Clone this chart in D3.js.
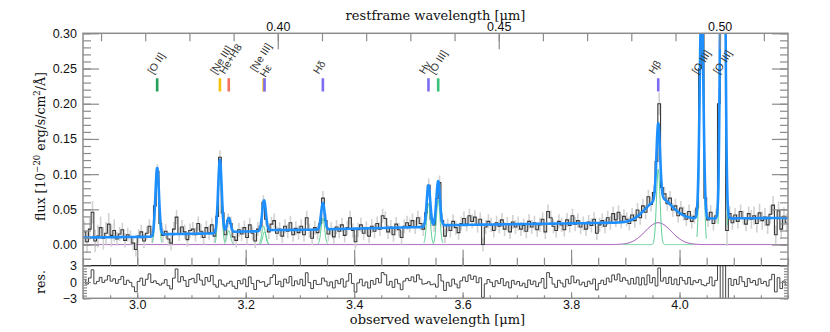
<!DOCTYPE html>
<html>
<head>
<meta charset="utf-8">
<script src="https://cdn.jsdelivr.net/npm/d3@7"></script>
<style>
  body { margin: 0; background: #fff; }
  svg { display: block; }
</style>
</head>
<body>
<svg id="chart" width="830" height="332"></svg>
<script>
// 1+z, observed = rest * onePlusZ
const onePlusZ = 8.148;

// spectrum bins (observed micron): first bin centre and bin width
const binStart = 2.9025, binStep = 0.005;

// observed flux per bin [1e-20 erg/s/cm2/A]
const flux = [
  0.018, 0.004, 0.022, 0.046, 0.005, 0.012, 0.024, 0.009, 0.016, 0.029, 0.013, 0.020, 0.008, 0.015, 0.021, 0.006, 0.014, 0.010, 0.002, -0.007,
  0.012, 0.018, 0.005, 0.016, 0.026, 0.012, 0.055, 0.104, 0.030, 0.013, 0.019, 0.008, 0.002, 0.022, 0.039, 0.015, 0.025, 0.018, 0.007, 0.020,
  0.022, 0.014, 0.030, 0.019, 0.010, 0.024, 0.017, 0.028, 0.012, 0.040, 0.124, 0.045, 0.014, 0.034, 0.030, 0.011, 0.006, 0.021, 0.015, 0.024,
  0.010, 0.028, 0.016, 0.005, 0.022, 0.026, 0.060, 0.036, 0.018, 0.029, 0.034, 0.016, 0.022, 0.012, 0.026, 0.019, 0.031, 0.014, 0.023, 0.017,
  0.026, 0.014, 0.038, 0.020, 0.009, 0.024, 0.017, 0.030, 0.066, 0.034, 0.015, 0.022, 0.011, 0.025, 0.019, 0.028, 0.013, 0.024, 0.038, 0.020,
  0.004, 0.021, 0.028, 0.016, 0.023, 0.012, 0.026, 0.019, 0.030, 0.022, 0.041, 0.037, 0.018, 0.025, 0.014, 0.029, 0.021, 0.010, 0.026, 0.031,
  0.027, 0.034, 0.025, 0.038, 0.030, 0.022, 0.045, 0.084, 0.036, 0.028, 0.065, 0.088, 0.034, 0.012, 0.027, 0.020, 0.033, 0.024, 0.017, 0.030,
  0.037, 0.029, 0.041, 0.033, 0.039, 0.027, 0.036, 0.000, 0.025, 0.033, 0.028, 0.020, 0.031, 0.026, 0.035, 0.022, 0.029, 0.018, 0.032, 0.025,
  0.030, 0.022, 0.027, 0.019, 0.033, 0.025, 0.031, 0.021, 0.028, 0.036, 0.018, 0.047, 0.038, 0.026, 0.020, 0.033, 0.028, 0.021, 0.035, 0.027,
  0.041, 0.029, 0.034, 0.025, 0.030, 0.022, 0.032, 0.027, 0.036, 0.016, 0.028, 0.034, 0.026, 0.038, 0.031, 0.044, 0.035, 0.046, 0.033, 0.040,
  0.036, 0.030, 0.042, 0.034, 0.049, 0.038, 0.055, 0.046, 0.068, 0.057, 0.074, 0.118, 0.200, 0.081, 0.072, 0.058, 0.066, 0.049, 0.055, 0.041,
  0.052, 0.044, 0.036, 0.047, 0.033, 0.040, 0.052, 0.250, 0.300, 0.066, 0.035, 0.046, 0.030, 0.041, 0.200, 0.620, 0.860, 0.020, 0.044, 0.031,
  0.042, 0.033, 0.047, 0.038, 0.029, 0.044, 0.036, 0.041, 0.030, 0.045, 0.034, 0.039, 0.028, 0.043, 0.056, 0.014, 0.048, 0.022, 0.040, 0.031
];

// 1-sigma error, piecewise constant [from, to, err]
const errSegments = [
  [2.900, 2.960, 0.016], [2.960, 3.955, 0.010], [3.955, 3.966, 0.016],
  [3.966, 4.035, 0.010], [4.035, 4.046, 0.016], [4.046, 4.070, 0.010],
  [4.070, 4.090, 0.022], [4.090, 4.130, 0.010], [4.130, 4.200, 0.013]
];

// fitted continuum (knots)
const contWave = [2.900, 3.034, 3.040, 3.150, 3.170, 3.230, 3.236, 3.340, 3.345, 3.530, 3.560, 3.900, 3.955, 3.966, 4.200];
const contFlux = [0.0100, 0.0112, 0.0145, 0.0160, 0.0180, 0.0190, 0.0205, 0.0212, 0.0216, 0.0250, 0.0275, 0.0312, 0.0320, 0.0365, 0.0378];

// emission lines: name, rest wavelength (micron), fitted narrow amplitude
const lineNames = ["[O II]", "[Ne III]", "He+H8", "[Ne III]", "Hε", "Hδ", "Hγ", "[O III]", "Hβ", "[O III]", "[O III]"];
const lineRest  = [0.3727, 0.3869, 0.3889, 0.3968, 0.3970, 0.4102, 0.4341, 0.4363, 0.4861, 0.4959, 0.5007];
const lineAmp   = [0.096, 0.104, 0.020, 0.026, 0.018, 0.0375, 0.0585, 0.063, 0.107, 0.32, 0.95];
const narrowSigma = 0.0033;

// broad Hbeta component
const broadRest = 0.4861, broadAmp = 0.031, broadSigma = 0.024;

// axis tick labels
const obsTicks = [3.0, 3.2, 3.4, 3.6, 3.8, 4.0];
const restTicks = [0.40, 0.45, 0.50];
const fluxTicks = [0.00, 0.05, 0.10, 0.15, 0.20, 0.25, 0.30];
const resTicks = [-3, 0, 3];

const lineColor = {
  "[O II]": "#23a05a", "[Ne III]": "#f4c20d", "He+H8": "#f4725e",
  "Hε": "#7b6cf0", "Hδ": "#7b6cf0", "Hγ": "#7b6cf0", "Hβ": "#7b6cf0", "[O III]": "#3cc07a"
};

const svg = d3.select("#chart");
const L = 83, R = 788, T = 33.3, MB = 265.7, RB = 298.3;

const x = d3.scaleLinear().domain([2.9, 4.2]).range([L, R]);
const xTop = d3.scaleLinear().domain([2.9 / onePlusZ, 4.2 / onePlusZ]).range([L, R]);
const y = d3.scaleLinear().domain([-0.03, 0.30]).range([MB, T]);
const yr = d3.scaleLinear().domain([-3, 3]).range([RB, MB]);

const gauss = (w, c, a, s) => a * Math.exp(-0.5 * ((w - c) / s) ** 2);
const cont = d3.scaleLinear().domain(contWave).range(contFlux).clamp(true);
const broad = w => gauss(w, broadRest * onePlusZ, broadAmp, broadSigma);
const narrow = w => d3.sum(lineRest, (r, k) => gauss(w, r * onePlusZ, lineAmp[k], narrowSigma));
const model = w => cont(w) + broad(w) + narrow(w);
const errAt = w => (errSegments.find(s => w >= s[0] && w < s[1]) || errSegments[errSegments.length - 1])[2];

const bins = flux.map((f, i) => {
  const w = binStart + i * binStep;
  const e = errAt(w);
  return {w, f, e, r: (f - model(w)) / e};
});

const grid = d3.range(2.9, 4.2001, 0.0005);

const defs = svg.append("defs");
defs.append("clipPath").attr("id", "clipMain")
  .append("rect").attr("x", L).attr("y", T).attr("width", R - L).attr("height", MB - T);
defs.append("clipPath").attr("id", "clipRes")
  .append("rect").attr("x", L).attr("y", MB).attr("width", R - L).attr("height", RB - MB);

const main = svg.append("g").attr("clip-path", "url(#clipMain)");

// broad component (gives the zero line too)
main.append("path")
  .datum(grid)
  .attr("fill", "none")
  .attr("stroke", "#8e3aa6")
  .attr("stroke-width", 1)
  .attr("d", d3.line().x(w => x(w)).y(w => y(broad(w))));

// line markers (the ones under a line running off the top are hidden by the fit)
const markerTop = 0.236, markerBottom = 0.2175;
main.append("g")
  .selectAll("line")
  .data(lineRest.filter(r => model(r * onePlusZ) < markerBottom))
  .join("line")
  .attr("x1", r => x(r * onePlusZ)).attr("x2", r => x(r * onePlusZ))
  .attr("y1", y(markerTop)).attr("y2", y(markerBottom))
  .attr("stroke", r => lineColor[lineNames[lineRest.indexOf(r)]])
  .attr("stroke-width", 2.6);

// error bars
main.append("g")
  .attr("stroke", "#d2d2d2")
  .attr("stroke-width", 1.6)
  .selectAll("line")
  .data(bins)
  .join("line")
  .attr("x1", d => x(d.w)).attr("x2", d => x(d.w))
  .attr("y1", d => y(d.f - d.e)).attr("y2", d => y(d.f + d.e));

// observed spectrum
main.append("path")
  .datum(bins)
  .attr("fill", "none")
  .attr("stroke", "#383838")
  .attr("stroke-width", 1.1)
  .attr("d", d3.line().curve(d3.curveStep).x(d => x(d.w)).y(d => y(d.f)));

// narrow components
lineRest.forEach((r, k) => {
  const c = r * onePlusZ;
  const half = r === broadRest ? 0.065 : 0.009;
  main.append("path")
    .datum(grid.filter(w => Math.abs(w - c) <= half))
    .attr("fill", "none")
    .attr("stroke", "#4cc98a")
    .attr("stroke-width", 0.9)
    .attr("d", d3.line().x(w => x(w)).y(w => y(gauss(w, c, lineAmp[k], narrowSigma))));
});

// total model
main.append("path")
  .datum(grid)
  .attr("fill", "none")
  .attr("stroke", "#1e8fff")
  .attr("stroke-width", 2.6)
  .attr("stroke-linejoin", "round")
  .attr("d", d3.line().x(w => x(w)).y(w => y(model(w))));

// residuals
svg.append("g").attr("clip-path", "url(#clipRes)")
  .append("path")
  .datum(bins)
  .attr("fill", "none")
  .attr("stroke", "#444")
  .attr("stroke-width", 1)
  .attr("d", d3.line().curve(d3.curveStep).x(d => x(d.w)).y(d => yr(d.r)));

// frames
svg.append("rect").attr("x", L).attr("y", T).attr("width", R - L).attr("height", RB - T)
  .attr("fill", "none").attr("stroke", "#8c8c8c").attr("stroke-width", 1.5);
svg.append("line").attr("x1", L).attr("x2", R).attr("y1", MB).attr("y2", MB)
  .attr("stroke", "#222").attr("stroke-width", 1.3);

// axes
const tickFont = "'Liberation Sans', Arial, sans-serif";
function axis(gen, transform, values, len, fmt, pad) {
  const g = svg.append("g").attr("transform", transform)
    .call(gen.tickValues(values).tickSize(-len).tickPadding(pad || 3)
      .tickFormat(fmt || (() => "")));
  g.attr("font-family", tickFont).attr("font-size", 12.5);
  g.select(".domain").remove();
  g.selectAll(".tick line").attr("stroke", "#8c8c8c").attr("stroke-width", 1.2);
  g.selectAll(".tick text").attr("fill", "#111");
  return g;
}

const minorObs = d3.range(2.9, 4.2001, 0.05);
const minorRest = d3.range(0.36, 0.5151, 0.01);
const minorFlux = d3.range(-0.03, 0.3001, 0.01);
const minorRes = d3.range(-3, 3.001, 0.5);

axis(d3.axisTop(xTop), `translate(0,${T})`, minorRest, 8);
axis(d3.axisTop(xTop), `translate(0,${T})`, restTicks, 16, d3.format(".2f"), 2);
axis(d3.axisBottom(x), `translate(0,${MB})`, minorObs, 8);
axis(d3.axisBottom(x), `translate(0,${MB})`, obsTicks, 16);
axis(d3.axisLeft(y), `translate(${L},0)`, minorFlux, 8);
axis(d3.axisLeft(y), `translate(${L},0)`, fluxTicks, 16, d3.format(".2f"), 6);
axis(d3.axisRight(y), `translate(${R},0)`, minorFlux, 8);
axis(d3.axisRight(y), `translate(${R},0)`, fluxTicks, 16);
axis(d3.axisLeft(yr), `translate(${L},0)`, minorRes, 4);
axis(d3.axisLeft(yr), `translate(${L},0)`, resTicks, 8, d3.format("d"), 6);
axis(d3.axisRight(yr), `translate(${R},0)`, minorRes, 4);
axis(d3.axisRight(yr), `translate(${R},0)`, resTicks, 8);
axis(d3.axisBottom(x), `translate(0,${RB})`, minorObs, 3);
axis(d3.axisBottom(x), `translate(0,${RB})`, obsTicks, 6, d3.format(".1f"), 1.5);

// axis titles
const serif = "'DejaVu Serif', 'Liberation Serif', serif";
svg.append("text").attr("x", (L + R) / 2).attr("y", 20)
  .attr("text-anchor", "middle").attr("font-family", serif).attr("font-size", 13).attr("fill", "#111")
  .text("restframe wavelength [μm]");
svg.append("text").attr("x", (L + R) / 2 + 2).attr("y", 323.5)
  .attr("text-anchor", "middle").attr("font-family", serif).attr("font-size", 13).attr("fill", "#111")
  .text("observed wavelength [μm]");

const yt = svg.append("text").attr("transform", `translate(45,${(T + MB) / 2 - 3}) rotate(-90)`)
  .attr("text-anchor", "middle").attr("font-family", serif).attr("font-size", 12.5).attr("fill", "#111");
yt.append("tspan").text("flux [10");
yt.append("tspan").attr("dy", -5).attr("font-size", 8.5).text("−20");
yt.append("tspan").attr("dy", 5).text(" erg/s/cm");
yt.append("tspan").attr("dy", -5).attr("font-size", 8.5).text("2");
yt.append("tspan").attr("dy", 5).text("/Å]");

svg.append("text").attr("transform", `translate(45,${yr(0)}) rotate(-90)`)
  .attr("text-anchor", "middle").attr("font-family", serif).attr("font-size", 12.5).attr("fill", "#111")
  .text("res.");

// line labels
const labels = svg.append("g")
  .attr("font-family", tickFont)
  .attr("font-size", 10.5)
  .attr("fill", "#333");
lineRest.forEach((r, k) => {
  const xm = x(r * onePlusZ);
  const prev = k > 0 ? x(lineRest[k - 1] * onePlusZ) : -1e3;
  const next = k < lineRest.length - 1 ? x(lineRest[k + 1] * onePlusZ) : 1e4;
  let dy = 0;
  if (xm - prev < 3) dy = 0.55;
  else if (next - xm < 3) dy = -0.45;
  labels.append("text")
    .attr("transform", `translate(${xm - 4},${y(0.241)}) rotate(-58)`)
    .attr("dy", dy + "em")
    .text(lineNames[k]);
});
</script>
</body>
</html>
